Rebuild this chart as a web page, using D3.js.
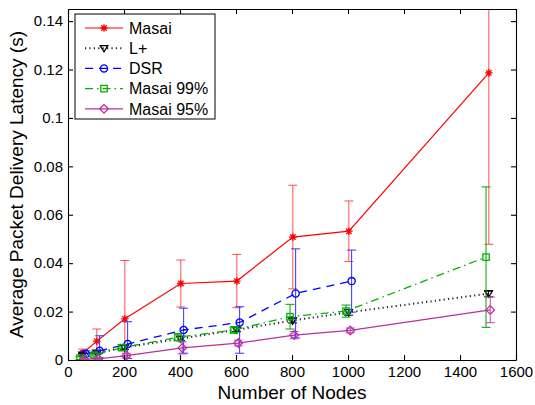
<!DOCTYPE html>
<html>
<head>
<meta charset="utf-8">
<script src="https://cdn.jsdelivr.net/npm/d3@7"></script>
<style>
  body { margin: 0; background: #fff; }
  svg text { font-family: 'Liberation Sans', Arial, Helvetica, sans-serif; }
</style>
</head>
<body>
<div id="chart"></div>
<script>
// x values (number of nodes)
let nodes = [50, 100, 200, 400, 600, 800, 1000, 1500]
let dsrNodes = [50, 100, 200, 400, 600, 800, 1000]

// latency (s) and error half-widths
let masai = [0.0029, 0.0078, 0.0170, 0.0316, 0.0326, 0.0508, 0.0532, 0.1186]
let masaiErr = [0.0016, 0.0050, 0.0241, 0.0097, 0.0110, 0.0214, 0.0125, 0.0708]

let lplus = [0.0022, 0.0030, 0.0052, 0.0088, 0.0125, 0.0163, 0.0197, 0.0274]
let lplusErr = [0.0005, 0.0005, 0.0008, 0.0008, 0.0008, 0.0010, 0.0012, 0.0013]

let dsr = [0.0026, 0.0038, 0.0066, 0.0124, 0.0155, 0.0275, 0.0326]
let dsrErr = [0.0012, 0.0062, 0.0092, 0.0090, 0.0065, 0.0184, 0.0128]
let dsrErrLow = [0.0012, 0.0030, 0.0060, 0.0096, 0.0127, 0.0184, 0.0128]

let masai99 = [0.0008, 0.0020, 0.0051, 0.0094, 0.0124, 0.0179, 0.0202, 0.0425]
let masai99Err = [0.0006, 0.0008, 0.0012, 0.0015, 0.0012, 0.0051, 0.0025, 0.0290]

let masai95 = [0.0004, 0.0005, 0.0018, 0.0050, 0.0070, 0.0103, 0.0122, 0.0207]
let masai95Err = [0.0003, 0.0004, 0.0010, 0.0025, 0.0012, 0.0015, 0.0010, 0.0053]

let xTicks = [0, 200, 400, 600, 800, 1000, 1200, 1400, 1600]
let yTicks = [0, 0.02, 0.04, 0.06, 0.08, 0.1, 0.12, 0.14]

let series = [
  { name: 'Masai', xs: nodes, ys: masai, hi: masaiErr, lo: masaiErr, shift: 3,
    color: '#ff0000', barColor: '#ff4d4d', dash: null, width: 1.2, marker: 'star' },
  { name: 'L+', xs: nodes, ys: lplus, hi: lplusErr, lo: lplusErr, shift: 2,
    color: '#222222', barColor: '#000000', dash: '1.2,3.2', width: 2, marker: 'tri' },
  { name: 'DSR', xs: dsrNodes, ys: dsr, hi: dsrErr, lo: dsrErrLow, shift: 13,
    color: '#0000ff', barColor: '#3333ff', dash: '8,6', width: 1.3, marker: 'circle' },
  { name: 'Masai 99%', xs: nodes, ys: masai99, hi: masai99Err, lo: masai99Err, shift: -7,
    color: '#00b300', barColor: '#00a000', dash: '8,4,1.5,4', width: 1.3, marker: 'square' },
  { name: 'Masai 95%', xs: nodes, ys: masai95, hi: masai95Err, lo: masai95Err, shift: 8,
    color: '#b8309f', barColor: '#c040a8', dash: null, width: 1.2, marker: 'diamond' }
]

let margin = { top: 9, left: 68, right: 19, bottom: 45 }
let width = 535 - margin.left - margin.right
let height = 405 - margin.top - margin.bottom

let svg = d3
  .select('#chart')
  .append('svg')
  .attr('width', 535)
  .attr('height', 405)
  .append('g')
  .attr('transform', 'translate(' + margin.left + ',' + margin.top + ')')

let x = d3.scaleLinear().domain([0, 1600]).range([0, width])
let y = d3.scaleLinear().domain([0, 0.145]).range([height, 0])

svg.append('clipPath')
  .attr('id', 'plot-clip')
  .append('rect')
  .attr('width', width)
  .attr('height', height)

function drawMarker(g, type, color) {
  if (type === 'star') {
    let r = 3.8
    let d = r * 0.72
    g.append('path')
      .attr('d', 'M0,' + -r + 'V' + r + 'M' + -r + ',0H' + r +
        'M' + -d + ',' + -d + 'L' + d + ',' + d + 'M' + -d + ',' + d + 'L' + d + ',' + -d)
      .attr('stroke', color).attr('stroke-width', 1.3).attr('fill', 'none')
  } else if (type === 'tri') {
    g.append('path')
      .attr('d', 'M-3.8,-2.6L3.8,-2.6L0,3.6Z')
      .attr('stroke', '#000').attr('stroke-width', 1.3).attr('fill', 'none')
  } else if (type === 'circle') {
    g.append('circle').attr('r', 3.6)
      .attr('stroke', color).attr('stroke-width', 1.3).attr('fill', 'none')
  } else if (type === 'square') {
    g.append('rect').attr('x', -3.2).attr('y', -3.2).attr('width', 6.4).attr('height', 6.4)
      .attr('stroke', color).attr('stroke-width', 1.3).attr('fill', 'none')
  } else if (type === 'diamond') {
    g.append('path').attr('d', 'M0,-4.3L4.3,0L0,4.3L-4.3,0Z')
      .attr('stroke', color).attr('stroke-width', 1.3).attr('fill', 'none')
  }
}

let plot = svg.append('g').attr('clip-path', 'url(#plot-clip)')

let line = d3.line()
  .x(d => x(d.x))
  .y(d => y(d.y))

series.forEach(s => {
  let pts = s.ys.map((v, i) => ({ x: s.xs[i] + s.shift, y: v, hi: s.hi[i], lo: s.lo[i] }))
  let g = plot.append('g').attr('class', 'series')

  // error bars
  g.selectAll('.err')
    .data(pts)
    .enter()
    .append('path')
    .attr('class', 'err')
    .attr('d', d => {
      let px = x(d.x)
      let top = y(d.y + d.hi)
      let bot = y(Math.max(d.y - d.lo, -0.01))
      return 'M' + px + ',' + top + 'V' + bot +
        'M' + (px - 4.5) + ',' + top + 'H' + (px + 4.5) +
        'M' + (px - 4.5) + ',' + bot + 'H' + (px + 4.5)
    })
    .attr('stroke', s.barColor)
    .attr('stroke-width', 1)
    .attr('fill', 'none')

  g.append('path')
    .datum(pts)
    .attr('d', line)
    .attr('fill', 'none')
    .attr('stroke', s.color)
    .attr('stroke-width', s.width)
    .attr('stroke-dasharray', s.dash)

  g.selectAll('.mk')
    .data(pts)
    .enter()
    .append('g')
    .attr('class', 'mk')
    .attr('transform', d => 'translate(' + x(d.x) + ',' + y(d.y) + ')')
    .each(function() { drawMarker(d3.select(this), s.marker, s.color) })
})

// axes (matlab style: ticks inside, box on)
let xAxis = d3.axisBottom(x).tickValues(xTicks).tickSizeInner(-5).tickSizeOuter(0).tickPadding(6)
  .tickFormat(d3.format('d'))
let yAxis = d3.axisLeft(y).tickValues(yTicks).tickSizeInner(-5).tickSizeOuter(0).tickPadding(5)
  .tickFormat(d => d === 0 ? '0' : d3.format('~g')(+d.toFixed(2)))

svg.append('g')
  .attr('class', 'axis x-axis')
  .attr('transform', 'translate(0,' + height + ')')
  .call(xAxis)

svg.append('g')
  .attr('class', 'axis y-axis')
  .call(yAxis)

svg.append('g')
  .attr('class', 'axis')
  .call(d3.axisTop(x).tickValues(xTicks).tickSizeInner(-5).tickSizeOuter(0).tickFormat(''))

svg.append('g')
  .attr('class', 'axis')
  .attr('transform', 'translate(' + width + ',0)')
  .call(d3.axisRight(y).tickValues(yTicks).tickSizeInner(-5).tickSizeOuter(0).tickFormat(''))

svg.selectAll('.axis path, .axis line').attr('stroke', '#000').attr('stroke-width', 1.1)
svg.selectAll('.axis text')
  .attr('font-size', 15)
  .attr('fill', '#000')
  .attr('font-family', "'Liberation Sans', Arial, sans-serif")

// axis titles
svg.append('text')
  .attr('x', width / 2)
  .attr('y', height + 39)
  .attr('text-anchor', 'middle')
  .attr('font-size', 19)
  .text('Number of Nodes')

svg.append('text')
  .attr('transform', 'translate(' + (-45) + ',' + (height / 2) + ') rotate(-90)')
  .attr('text-anchor', 'middle')
  .attr('font-size', 19)
  .text('Average Packet Delivery Latency (s)')

// legend
let legend = svg.append('g').attr('transform', 'translate(7,5)')
legend.append('rect')
  .attr('width', 140)
  .attr('height', 105)
  .attr('fill', '#fff')
  .attr('stroke', '#000')
  .attr('stroke-width', 1)

series.forEach((s, i) => {
  let row = legend.append('g').attr('transform', 'translate(0,' + (14 + i * 20.2) + ')')
  row.append('line')
    .attr('x1', 10).attr('x2', 48)
    .attr('stroke', s.color)
    .attr('stroke-width', s.width)
    .attr('stroke-dasharray', s.dash)
  let m = row.append('g').attr('transform', 'translate(29,0)')
  drawMarker(m, s.marker, s.color)
  row.append('text')
    .attr('x', 54)
    .attr('y', 5.8)
    .attr('font-size', 16)
    .text(s.name)
})
</script>
</body>
</html>
